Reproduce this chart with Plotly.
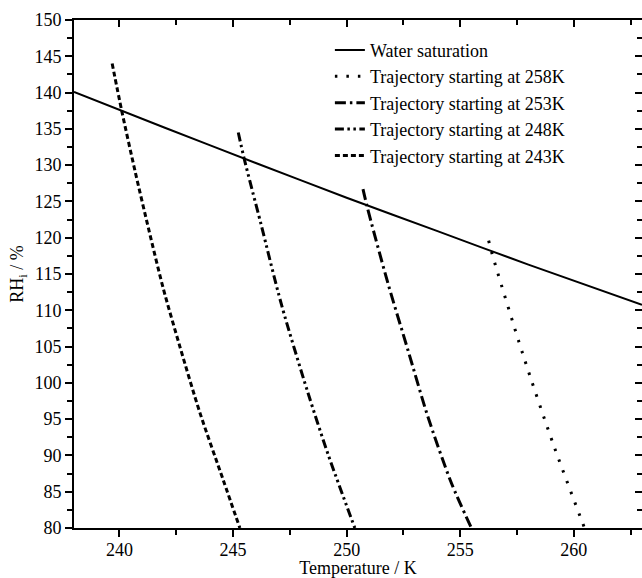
import plotly.graph_objects as go

# ---- data ----
water_T = [238.0, 242.0, 246.0, 250.0, 254.0, 258.0, 263.0]
water_RH = [140.1, 135.15, 130.3, 125.5, 120.9, 116.3, 110.75]

traj258_T = [256.25, 256.4, 257.76, 259.1, 260.47]
traj258_RH = [119.6, 117.8, 103.9, 91.5, 80.0]

traj253_T = [250.72, 250.9, 251.82, 252.7, 253.58, 254.61, 255.49]
traj253_RH = [126.7, 124.3, 113.7, 104.5, 95.3, 86.2, 80.0]

traj248_T = [245.23, 245.49, 246.22, 247.13, 248.3, 249.2, 250.36]
traj248_RH = [134.5, 130.9, 122.0, 110.8, 98.6, 90.0, 80.0]

traj243_T = [239.68, 240.10, 240.7, 241.3, 241.93, 242.66, 243.54, 244.57, 245.30]
traj243_RH = [144.0, 137.5, 129.0, 121.0, 113.0, 105.0, 95.9, 86.6, 80.0]

names = ["Water saturation",
         "Trajectory starting at 258K",
         "Trajectory starting at 253K",
         "Trajectory starting at 248K",
         "Trajectory starting at 243K"]

x_range = [238, 263]
y_range = [80, 150]

FONT = "Liberation Serif, Times New Roman, serif"

fig = go.Figure()
fig.add_trace(go.Scatter(x=water_T, y=water_RH, mode="lines", name=names[0],
                         line=dict(color="black", width=2, shape="spline", smoothing=0.6)))
fig.add_trace(go.Scatter(x=traj258_T, y=traj258_RH, mode="lines", name=names[1],
                         line=dict(color="black", width=3, dash="2.5px,9px", shape="spline", smoothing=0.8)))
fig.add_trace(go.Scatter(x=traj253_T, y=traj253_RH, mode="lines", name=names[2],
                         line=dict(color="black", width=3, dash="11px,4px,2.5px,4px", shape="spline", smoothing=0.8)))
fig.add_trace(go.Scatter(x=traj248_T, y=traj248_RH, mode="lines", name=names[3],
                         line=dict(color="black", width=3, dash="9px,3.5px,2.5px,3.5px,2.5px,3.5px", shape="spline", smoothing=0.8)))
fig.add_trace(go.Scatter(x=traj243_T, y=traj243_RH, mode="lines", name=names[4],
                         line=dict(color="black", width=3, dash="5px,3px", shape="spline", smoothing=0.8)))
# empty trace to activate the mirrored (inside-tick) top/right axes
fig.add_trace(go.Scatter(x=[], y=[], xaxis="x2", yaxis="y2", showlegend=False, hoverinfo="skip"))

axis_common = dict(showgrid=False, zeroline=False, showline=True, linecolor="black", linewidth=2,
                   tickcolor="black", tickwidth=2, ticklen=7)

fig.update_layout(
    width=642, height=578,
    margin=dict(l=74, r=0, t=20, b=50),
    paper_bgcolor="white", plot_bgcolor="white",
    font=dict(family=FONT, size=18, color="black"),
    xaxis=dict(range=x_range, dtick=5, tick0=240, ticks="outside", automargin=False,
               ticklabelstandoff=-3,
               tickfont=dict(family=FONT, size=18, color="black"),
               minor=dict(dtick=2.5, tick0=240, ticks="outside", ticklen=5, tickwidth=2, tickcolor="black"),
               title=dict(text="Temperature / K", standoff=6, font=dict(family=FONT, size=18)),
               **axis_common),
    yaxis=dict(range=y_range, dtick=5, tick0=80, ticks="outside", automargin=False,
               tickfont=dict(family=FONT, size=18, color="black"),
               minor=dict(dtick=2.5, tick0=80, ticks="outside", ticklen=5, tickwidth=2, tickcolor="black"),
               title=dict(text="RH<sub>i</sub> / %", standoff=6, font=dict(family=FONT, size=18)),
               **axis_common),
    xaxis2=dict(overlaying="x", side="top", matches="x", anchor="y2", range=x_range, dtick=5, tick0=240,
                ticks="inside", showticklabels=False,
                minor=dict(dtick=2.5, tick0=240, ticks="inside", ticklen=5, tickwidth=2, tickcolor="black"),
                **axis_common),
    yaxis2=dict(overlaying="y", side="right", matches="y", anchor="x2", range=y_range, dtick=5, tick0=80,
                ticks="inside", showticklabels=False,
                minor=dict(dtick=2.5, tick0=80, ticks="inside", ticklen=5, tickwidth=2, tickcolor="black"),
                **axis_common),
    legend=dict(x=0.4505, y=0.977, xanchor="left", yanchor="top", bgcolor="rgba(0,0,0,0)",
                borderwidth=0, font=dict(family=FONT, size=18, color="black"),
                tracegroupgap=0),
    showlegend=True,
)

fig.write_html("out.html")
